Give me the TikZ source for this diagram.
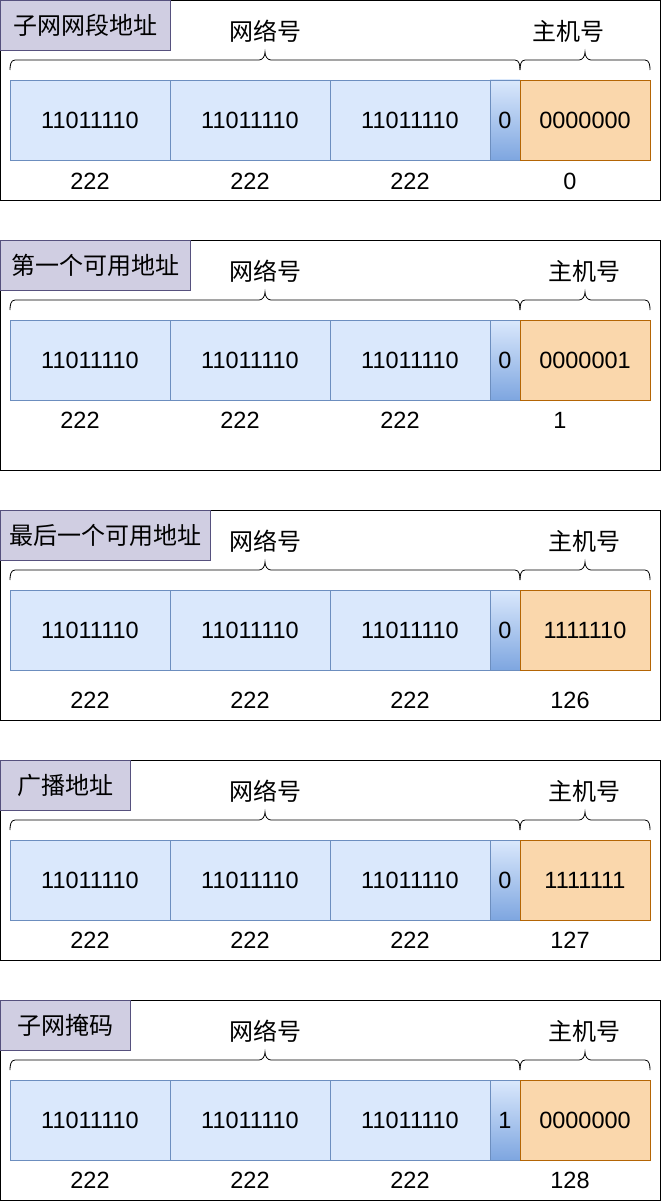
\documentclass[tikz,border=0pt]{standalone}
\usepackage{fontspec}
\setmainfont{Liberation Sans}
\newfontfamily\cjk{Noto Sans CJK SC}
\usepackage{tikz}
\usetikzlibrary{positioning}

\definecolor{netfill}{HTML}{DAE8FC}
\definecolor{netline}{HTML}{6C8EBF}
\definecolor{bitdark}{HTML}{7EA6E0}
\definecolor{hostfill}{HTML}{FAD7AC}
\definecolor{hostline}{HTML}{B46504}
\definecolor{titlefill}{HTML}{D0CEE2}
\definecolor{titleline}{HTML}{56517E}

\tikzset{
  cell/.style={draw=netline, fill=netfill, minimum height=80pt, inner sep=0pt, outer sep=0pt, line width=0.8pt, font=\fontsize{23.5}{26}\selectfont},
  netcell/.style={cell, minimum width=160pt},
  bitcell/.style={cell, minimum width=30pt, top color=netfill, bottom color=bitdark},
  hostcell/.style={cell, minimum width=130pt, draw=hostline, fill=hostfill},
  titlebox/.style={draw=titleline, fill=titlefill, anchor=north west, minimum height=50pt, inner sep=0pt, outer sep=0pt, line width=0.8pt, font=\cjk\fontsize{24}{26}\selectfont},
  partlabel/.style={font=\cjk\fontsize{24}{26}\selectfont},
  decimal/.style={font=\fontsize{23.5}{26}\selectfont},
  curly/.style={line width=0.8pt},
}

\begin{document}
\begin{tikzpicture}[x=1pt,y=1pt]
    \useasboundingbox (0,0) rectangle (661,-1201);

    % one panel per address
    \foreach \T/\H/\name/\tw/\bit/\host/\dec/\ny/\dx/\hx [count=\i] in {
        0/200/子网网段地址/170/0/0000000/0/181/0/568,
        240/230/第一个可用地址/190/0/0000001/1/180/-10/584,
        510/210/最后一个可用地址/210/0/1111110/126/190/0/584,
        760/200/广播地址/130/0/1111111/127/180/0/584,
        1000/200/子网掩码/130/1/0000000/128/180/0/584}
    {
        \draw[line width=0.8pt] (0.5,-\T) rectangle (660,{-(\T+\H)});
        \node[titlebox, minimum width=\tw pt] (T\i) at (0.5,-\T) {\name};

        \node[partlabel] (N\i) at (265,{-(\T+31)}) {网络号};
        \node[partlabel] (H\i) at (\hx,{-(\T+31)}) {主机号};

        % braces
        \draw[curly] (10,{-(\T+70)}) to[out=90,in=180] (15,{-(\T+60)}) -- (259,{-(\T+60)})
            to[out=0,in=-90] (265,{-(\T+52)}) to[out=-90,in=180] (271,{-(\T+60)})
            -- (515,{-(\T+60)}) to[out=0,in=90] (520,{-(\T+70)});
        \draw[curly] (520,{-(\T+70)}) to[out=90,in=180] (525,{-(\T+60)}) -- (579,{-(\T+60)})
            to[out=0,in=-90] (585,{-(\T+52)}) to[out=-90,in=180] (591,{-(\T+60)})
            -- (645,{-(\T+60)}) to[out=0,in=90] (650,{-(\T+70)});

        % bits
        \node[netcell] (A\i) at (90,{-(\T+120)}) {11011110};
        \node[netcell, right=0pt of A\i] (B\i) {11011110};
        \node[netcell, right=0pt of B\i] (C\i) {11011110};
        \node[bitcell, right=0pt of C\i] (D\i) {\bit};
        \node[hostcell, right=0pt of D\i] (E\i) {\host};

        % decimal values
        \node[decimal] (VA\i) at ({90+\dx},{-(\T+\ny)}) {222};
        \node[decimal] (VB\i) at ({250+\dx},{-(\T+\ny)}) {222};
        \node[decimal] (VC\i) at ({410+\dx},{-(\T+\ny)}) {222};
        \node[decimal] (VE\i) at ({570+\dx},{-(\T+\ny)}) {\dec};
    }
\end{tikzpicture}
\end{document}
